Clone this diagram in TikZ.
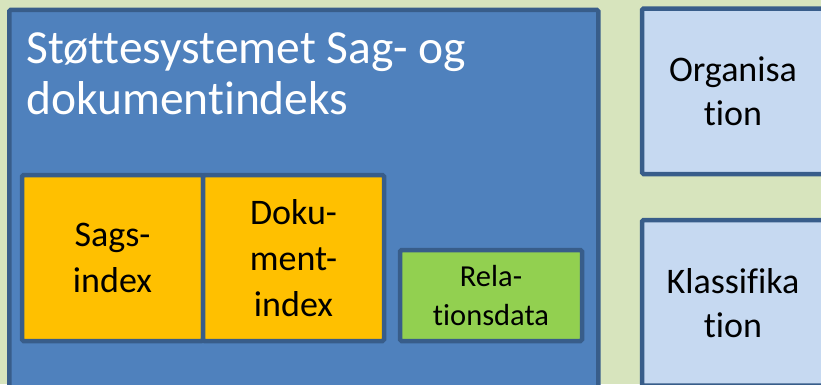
\documentclass[tikz,border=0pt]{standalone}
\usepackage{fontspec}
\setmainfont{Carlito}[Ligatures={NoCommon}]
\definecolor{bggreen}{HTML}{D7E4BD}
\definecolor{mainblue}{HTML}{4F81BD}
\definecolor{edgeblue}{HTML}{385D8A}
\definecolor{lightblue}{HTML}{C6D9F1}
\definecolor{idxorange}{HTML}{FFC000}
\definecolor{relgreen}{HTML}{92D050}
\tikzset{
  boxbase/.style={draw=edgeblue, line width=4.5pt, rounded corners=1.5pt, inner sep=0pt, align=center},
  idxbox/.style={boxbase, fill=idxorange, minimum width=181pt, minimum height=166pt,
     font=\fontsize{36}{46}\selectfont},
  relbox/.style={boxbase, fill=relgreen, minimum width=182pt, minimum height=91pt,
     font=\fontsize{30.5}{39}\selectfont},
  sidebox/.style={boxbase, fill=lightblue, minimum width=182pt, minimum height=165.5pt,
     font=\fontsize{36}{44}\selectfont},
  titletext/.style={text=white, inner sep=0pt, align=left, font=\fontsize{47.5}{51}\selectfont}
}
\begin{document}
\begin{tikzpicture}[x=1pt,y=-1pt]
\useasboundingbox (0,0) rectangle (821,384);
\clip (0,0) rectangle (821,384);
\fill[bggreen] (0,0) rectangle (821,384);
\node[boxbase, fill=mainblue, minimum width=589pt, minimum height=420pt, anchor=north west] (main) at (7,7.5) {};
\node[titletext, anchor=base west] (title) at (26,114) {Støttesystemet Sag- og\\dokumentindeks};
\node[idxbox] (sags) at (112.5,258) {Sags-\\index};
\node[idxbox] (doku) at (293.5,258) {Doku-\\ment-\\index};
\node[relbox] (rel) at (491,295.5) {Rela-\\tionsdata};
\node[sidebox] (org) at (733,91.25) {Organisa\\tion};
\node[sidebox] (klass) at (733,302.75) {Klassifika\\tion};
\end{tikzpicture}
\end{document}
